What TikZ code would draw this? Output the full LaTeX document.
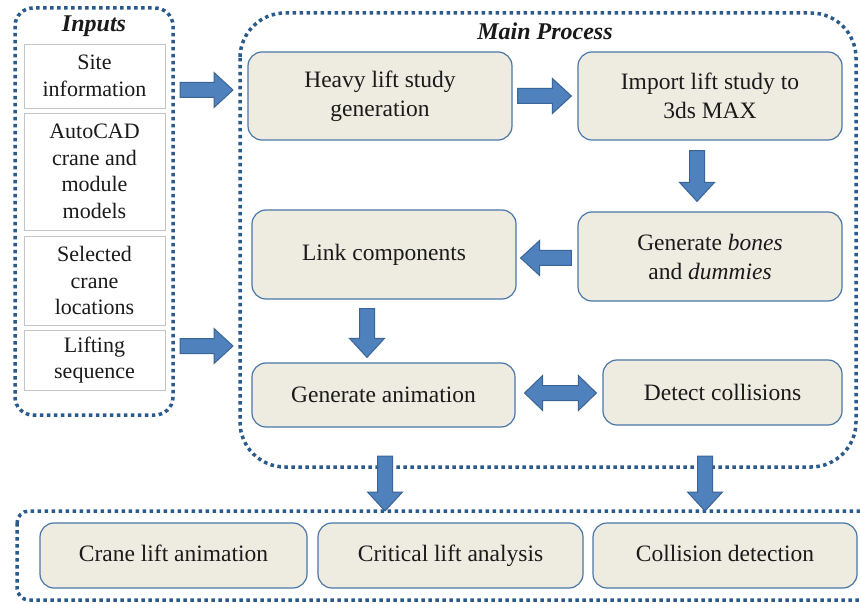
\documentclass[tikz,border=0pt]{standalone}
\usepackage{fontspec}
\setmainfont{Liberation Serif}
\usetikzlibrary{calc}
\definecolor{dotblue}{HTML}{2B5A8C}
\definecolor{arrowfill}{HTML}{4F81BD}
\definecolor{arrowdraw}{HTML}{3A6596}
\definecolor{boxfill}{HTML}{EEECE1}
\definecolor{boxdraw}{HTML}{4A76A8}
\definecolor{inborder}{HTML}{C4C4C4}
\definecolor{txt}{HTML}{1A1A1A}
\tikzset{
  dotline/.style={draw=dotblue, line width=3.5pt, dash pattern=on 3.5pt off 3.5pt},
  procbox/.style={draw=boxdraw, line width=1.2pt, fill=boxfill, rounded corners=14pt,
    align=center, text=txt, font=\fontsize{23.5}{29}\selectfont},
  inbox/.style={draw=inborder, line width=0.8pt, fill=white, minimum width=141pt,
    align=center, text=txt, font=\fontsize{22}{26.5}\selectfont},
  outbox/.style={procbox, minimum height=65pt, text height=16pt, text depth=5pt},
  arrowstyle/.style={fill=arrowfill, draw=arrowdraw, line width=1pt, line join=miter},
  title/.style={font=\fontsize{24}{28}\selectfont\bfseries\itshape, text=txt}
}
\newcommand\blkarrow[2]{%
  \coordinate (ba-n) at ($(#2)!19pt!(#1)$);
  \draw[arrowstyle] ($(#1)!7.5pt!90:(#2)$) -- ($(ba-n)!7.5pt!-90:(#1)$) --
    ($(ba-n)!17.5pt!-90:(#1)$) -- (#2) -- ($(ba-n)!17.5pt!90:(#1)$) --
    ($(ba-n)!7.5pt!90:(#1)$) -- ($(#1)!7.5pt!-90:(#2)$) -- cycle;
}
\newcommand\dblkarrow[2]{%
  \coordinate (da-a) at ($(#1)!18pt!(#2)$);
  \coordinate (da-b) at ($(#2)!18pt!(#1)$);
  \draw[arrowstyle] (#1) -- ($(da-a)!17.5pt!90:(#2)$) -- ($(da-a)!7.5pt!90:(#2)$) --
    ($(da-b)!7.5pt!-90:(#1)$) -- ($(da-b)!17.5pt!-90:(#1)$) -- (#2) --
    ($(da-b)!17.5pt!90:(#1)$) -- ($(da-b)!7.5pt!90:(#1)$) --
    ($(da-a)!7.5pt!-90:(#2)$) -- ($(da-a)!17.5pt!-90:(#2)$) -- cycle;
}
\begin{document}
\begin{tikzpicture}[x=1pt, y=-1pt]
\clip (0,0) rectangle (860,604);
\fill[white] (0,0) rectangle (860,604);

% containers
\draw[dotline, rounded corners=18pt] (15,8) rectangle (173,415);
\draw[dotline, rounded corners=45pt] (240,13) rectangle (856,467);
\draw[dotline, rounded corners=12pt] (17,511) rectangle (885,600);

\node[title] (tin) at (94,26) {Inputs};
\node[title] (tmain) at (545,31) {Main Process};

% inputs
\node[inbox, minimum height=64pt] (site) at (94.5,76) {Site\\information};
\node[inbox, minimum height=117pt] (acad) at (94.5,171.5) {AutoCAD\\crane and\\module\\models};
\node[inbox, minimum height=89pt] (sel) at (94.5,280.5) {Selected\\crane\\locations};
\node[inbox, minimum height=60pt] (lift) at (94.5,360) {Lifting\\sequence};

% main process
\node[procbox, minimum width=264pt, minimum height=88pt] (hls) at (380,96) {Heavy lift study\\generation};
\node[procbox, minimum width=264pt, minimum height=88pt] (imp) at (710,96) {Import lift study to\\3ds MAX};
\node[procbox, minimum width=264pt, minimum height=89pt] (bones) at (710,256.5) {Generate \textit{bones}\\and \textit{dummies}};
\node[procbox, minimum width=264pt, minimum height=89pt] (link) at (384,254.5) {Link components};
\node[procbox, minimum width=263pt, minimum height=64pt] (anim) at (383.5,395) {Generate animation};
\node[procbox, minimum width=239pt, minimum height=65pt] (det) at (722.5,392.5) {Detect collisions};

% outputs
\node[outbox, minimum width=267pt] (crane) at (173.5,555.5) {Crane lift animation};
\node[outbox, minimum width=265pt] (crit) at (450.5,555.5) {Critical lift analysis};
\node[outbox, minimum width=264pt] (coll) at (725,555.5) {Collision detection};

% connector end points
\coordinate (i1a) at (180,90);
\coordinate (i1b) at (233,90);
\coordinate (i2a) at (180,346);
\coordinate (i2b) at (233,346);
\coordinate (o1a) at (385,456);
\coordinate (o1b) at (385,511);
\coordinate (o2a) at (705,456);
\coordinate (o2b) at (705,511);
\coordinate (c1a) at ($(hls.east)+(5,0)$);
\coordinate (c1b) at ($(imp.west)+(-6,0)$);
\coordinate (c2a) at ($(imp.south)+(-13,10)$);
\coordinate (c2b) at ($(bones.north)+(-13,-10)$);
\coordinate (c3a) at ($(bones.west)+(-6,1.5)$);
\coordinate (c3b) at (c3a -| {$(link.east)+(4,0)$});
\coordinate (c4a) at ($(link.south)+(-17,9)$);
\coordinate (c4b) at (c4a |- {$(anim.north)+(0,-5)$});
\coordinate (c5a) at ($(anim.east)+(9,-2)$);
\coordinate (c5b) at (c5a -| {$(det.west)+(-6,0)$});

\blkarrow{i1a}{i1b}
\blkarrow{i2a}{i2b}
\blkarrow{c1a}{c1b}
\blkarrow{c2a}{c2b}
\blkarrow{c3a}{c3b}
\blkarrow{c4a}{c4b}
\dblkarrow{c5a}{c5b}
\blkarrow{o1a}{o1b}
\blkarrow{o2a}{o2b}
\end{tikzpicture}
\end{document}
